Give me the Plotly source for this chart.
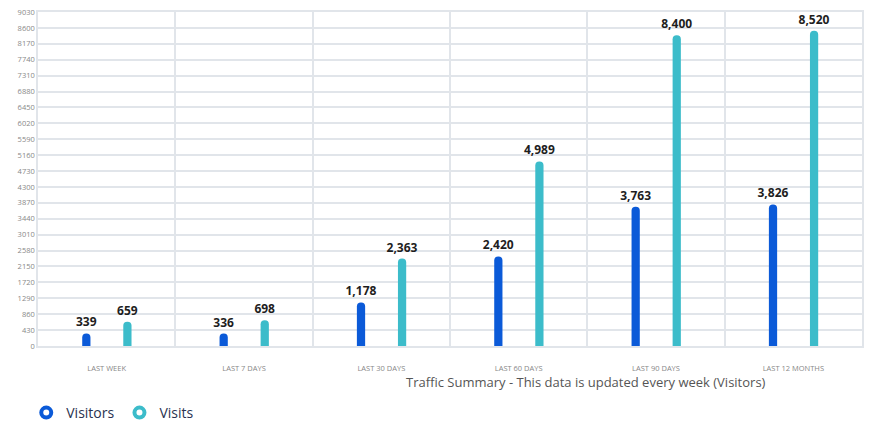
import plotly.graph_objects as go

categories = ["LAST WEEK", "LAST 7 DAYS", "LAST 30 DAYS", "LAST 60 DAYS", "LAST 90 DAYS", "LAST 12 MONTHS"]
visitors = [339, 336, 1178, 2420, 3763, 3826]
visits = [659, 698, 2363, 4989, 8400, 8520]
y_ticks = list(range(0, 9031, 430))

BLUE = "#0b5ad8"
TEAL = "#3cbcca"

fig = go.Figure()
for name, vals, color, off in [("Visitors", visitors, BLUE, -0.178), ("Visits", visits, TEAL, 0.121)]:
    fig.add_trace(go.Bar(
        x=categories, y=vals, name=name, marker=dict(color=color, line=dict(width=0)),
        width=0.06, offset=off, showlegend=False,
        texttemplate="<b>%{y:,}</b>", textposition="outside", constraintext="none",
        textfont=dict(family="Open Sans, sans-serif", size=12, color="#1e1e1e"),
        cliponaxis=False,
    ))
    fig.add_trace(go.Scatter(
        x=[None], y=[None], mode="markers", name=name,
        marker=dict(symbol="circle", size=10, color="white", line=dict(color=color, width=4)),
    ))

fig.update_layout(
    width=875, height=428,
    margin=dict(l=38, r=13, t=12, b=82, autoexpand=False),
    paper_bgcolor="white", plot_bgcolor="white",
    barcornerradius=4,
    font=dict(family="Open Sans, sans-serif", color="#888"),
    legend=dict(orientation="h", xref="container", yref="container", x=0.03, y=0.035,
                xanchor="left", yanchor="middle",
                font=dict(size=14, color="#2a3350")),
    showlegend=True,
)
fig.update_xaxes(
    tickson="boundaries", showgrid=True, gridcolor="#e1e5ea", gridwidth=1.5,
    tickfont=dict(size=7.5, color="#888"), ticks="", ticklabelstandoff=14,
    showline=True, linecolor="#e1e5ea", linewidth=1.5, mirror=True,
    range=[-0.5, 5.5],
)
fig.update_yaxes(
    range=[0, 9030], tickvals=y_ticks, ticktext=[str(v) for v in y_ticks],
    showgrid=True, gridcolor="#e1e5ea", gridwidth=1.5, zeroline=False,
    tickfont=dict(size=7.5, color="#888"), ticks="",
    showline=True, linecolor="#e1e5ea", linewidth=1.5, mirror=True,
)
fig.add_annotation(
    text="Traffic Summary - This data is updated every week (Visitors)",
    xref="paper", yref="paper", x=0.665, y=-0.075, xanchor="center", yanchor="top",
    showarrow=False, font=dict(size=13, color="#555"),
)
fig.write_html("out.html", config={"displayModeBar": False},
               post_script="document.body.style.margin='0';")
